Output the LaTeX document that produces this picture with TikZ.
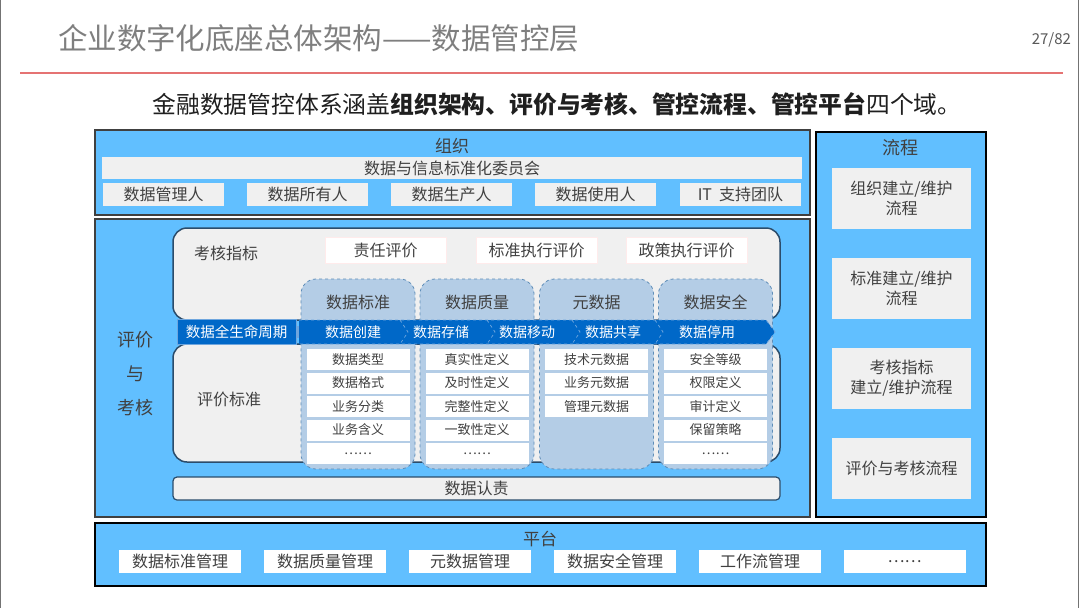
\documentclass[tikz,border=0pt]{standalone}
\usepackage{fontspec}
\setmainfont{Noto Sans CJK SC}
\definecolor{skyb}{HTML}{61BFFF}
\definecolor{lgray}{HTML}{F0F0F0}
\definecolor{txt}{HTML}{404040}
\definecolor{colfill}{HTML}{B4CDE6}
\definecolor{coledge}{HTML}{5E8DB8}
\definecolor{pedge}{HTML}{2B4C6B}
\definecolor{dblue}{HTML}{0068C8}
\definecolor{sepc}{HTML}{6FA6DE}
\definecolor{redl}{HTML}{E57373}
\definecolor{ttl}{HTML}{7F7F7F}
\newcommand{\fsz}[1]{\fontsize{#1}{#1}\selectfont}
\begin{document}
\begin{tikzpicture}[x=1pt,y=-1pt,
  every node/.style={inner sep=0pt, outer sep=0pt},
  frameA/.style={fill=skyb, draw=black!75, line width=1.3pt},
  frameB/.style={fill=skyb, draw=black, line width=2.2pt},
  gbox/.style={fill=lgray, text=txt, font=\fsz{16}},
  wbox/.style={fill=white, text=txt, font=\fsz{16}},
  panel/.style={fill=lgray, draw=pedge, line width=1.5pt, rounded corners=14pt},
  colpanel/.style={fill=colfill, draw=coledge, dashed, line width=0.8pt, rounded corners=15pt, minimum width=114, minimum height=190},
  item/.style={fill=white, text=txt, font=\fsz{13}, minimum width=103, minimum height=21},
  lbl/.style={text=txt, font=\fsz{16}},
  bandtxt/.style={text=white, font=\fsz{14}},
  sepline/.style={draw=sepc, dashed, line width=0.7pt},
  orgbox/.style={gbox, minimum width=121, minimum height=23},
  platbox/.style={wbox, minimum width=122, minimum height=23},
  procbox/.style={gbox, minimum width=139, minimum height=61, align=center, font=\fontsize{16}{20}\selectfont},
  kpibox/.style={wbox, minimum width=121, minimum height=26, draw=red!8, line width=0.5pt}
]
\useasboundingbox (0,0) rectangle (1080,608);
\fill[white] (0,0) rectangle (1080,608);
\draw[black!55, line width=0.8pt] (0.5,0) -- (0.5,608);
\draw[black!55, line width=0.8pt] (1078,0) -- (1078,608);

% header
\node[anchor=west, text=ttl, font=\fsz{29.5}] (title) at (58,38) {企业数字化底座总体架构——数据管控层};
\node[anchor=east, text=black!65, font=\fsz{15}] (pg) at (1071,40) {27/82};
\coordinate (rl1) at (20,73);
\coordinate (rl2) at (1063,73);
\draw[redl, line width=1.6pt] (rl1) -- (rl2);
\node[text=black!88, font=\fsz{23.8}] (sub) at (557,104) {金融数据管控体系涵盖\textbf{组织架构、评价与考核、管控流程、管控平台}四个域。};

% organisation
\node[frameA, minimum width=715, minimum height=85] (org) at (452.5,172.5) {};
\node[text=txt, font=\fsz{17}] (orgt) at (452,146) {组织};
\node[gbox, minimum width=700, minimum height=22] (comm) at (452,168) {数据与信息标准化委员会};
\node[orgbox] (o1) at (163.5,194.5) {数据管理人};
\node[orgbox] (o2) at (307.5,194.5) {数据所有人};
\node[orgbox] (o3) at (451.5,194.5) {数据生产人};
\node[orgbox] (o4) at (595.5,194.5) {数据使用人};
\node[orgbox] (o5) at (740.5,194.5) {IT\ \ 支持团队};

% evaluation frame
\node[frameA, minimum width=715, minimum height=298] (eval) at (452.5,368) {};
\node[text=txt, font=\fontsize{18}{34}\selectfont, align=center] (evt) at (135,374) {评价\\与\\考核};

\node[panel, minimum width=607, minimum height=92] (kpanel) at (476.5,274) {};
\node[panel, minimum width=607, minimum height=118] (epanel) at (476.5,403) {};
\node[lbl] (kl) at (226,253) {考核指标};
\node[lbl] (el) at (229,399) {评价标准};
\node[kpibox] (k1) at (385.5,250) {责任评价};
\node[kpibox] (k2) at (536.5,250) {标准执行评价};
\node[kpibox] (k3) at (686.5,250) {政策执行评价};

% columns
\node[colpanel] (c1) at (358,374) {};
\node[colpanel] (c2) at (477,374) {};
\node[colpanel] (c3) at (596.5,374) {};
\node[colpanel] (c4) at (715.5,374) {};
\node[lbl] (c1t) at (358,302) {数据标准};
\node[lbl] (c2t) at (477,302) {数据质量};
\node[lbl] (c3t) at (596.5,302) {元数据};
\node[lbl] (c4t) at (715.5,302) {数据安全};

% lifecycle band
\fill[dblue] (299,320) -- (766,320) -- (775,332) -- (766,344) -- (299,344) -- cycle;
\draw[sepline] (299,320) -- (766,320) -- (775,332) -- (766,344) -- (299,344);
\draw[sepline] (400,320) -- (408,332) -- (400,344);
\draw[sepline] (487,320) -- (495,332) -- (487,344);
\draw[sepline] (572,320) -- (580,332) -- (572,344);
\draw[sepline] (655,320) -- (663,332) -- (655,344);
\node[fill=dblue, draw=sepc, line width=0.5pt, text=white, font=\fsz{14.5}, minimum width=119, minimum height=25] (lc) at (236.5,331.5) {数据全生命周期};
\node[fill=sepc, minimum width=3, minimum height=12] (lclink) at (297.5,332) {};
\node[bandtxt] (b1) at (353,332) {数据创建};
\node[bandtxt] (b2) at (441,332) {数据存储};
\node[bandtxt] (b3) at (527,332) {数据移动};
\node[bandtxt] (b4) at (613,332) {数据共享};
\node[bandtxt] (b5) at (707,332) {数据停用};

% items
\node[item] (i11) at (358,359.5) {数据类型};
\node[item] (i12) at (358,383) {数据格式};
\node[item] (i13) at (358,406.5) {业务分类};
\node[item] (i14) at (358,430) {业务含义};
\node[item] (i15) at (358,453.5) {……};
\node[item] (i21) at (477,359.5) {真实性定义};
\node[item] (i22) at (477,383) {及时性定义};
\node[item] (i23) at (477,406.5) {完整性定义};
\node[item] (i24) at (477,430) {一致性定义};
\node[item] (i25) at (477,453.5) {……};
\node[item] (i31) at (596.5,359.5) {技术元数据};
\node[item] (i32) at (596.5,383) {业务元数据};
\node[item] (i33) at (596.5,406.5) {管理元数据};
\node[item] (i41) at (715.5,359.5) {安全等级};
\node[item] (i42) at (715.5,383) {权限定义};
\node[item] (i43) at (715.5,406.5) {审计定义};
\node[item] (i44) at (715.5,430) {保留策略};
\node[item] (i45) at (715.5,453.5) {……};

\node[fill=lgray, draw=pedge, line width=1.2pt, rounded corners=4pt, text=txt, font=\fsz{16}, minimum width=607, minimum height=23] (own) at (476.5,488.5) {数据认责};

% process
\node[frameB, minimum width=170, minimum height=385] (proc) at (901,324.5) {};
\node[text=txt, font=\fsz{18}] (proct) at (900,148) {流程};
\node[procbox] (p1) at (901.5,198.5) {组织建立/维护\\流程};
\node[procbox] (p2) at (901.5,288.5) {标准建立/维护\\流程};
\node[procbox] (p3) at (901.5,378.5) {考核指标\\建立/维护流程};
\node[procbox] (p4) at (901.5,468.5) {评价与考核流程};

% platform
\node[frameB, minimum width=891, minimum height=63] (plat) at (540.5,554.5) {};
\node[text=txt, font=\fsz{17}] (platt) at (540,539) {平台};
\node[platbox] (q1) at (180,561.5) {数据标准管理};
\node[platbox] (q2) at (325,561.5) {数据质量管理};
\node[platbox] (q3) at (470,561.5) {元数据管理};
\node[platbox] (q4) at (615,561.5) {数据安全管理};
\node[platbox] (q5) at (760,561.5) {工作流管理};
\node[platbox] (q6) at (904.5,561.5) {……};
\end{tikzpicture}
\end{document}
